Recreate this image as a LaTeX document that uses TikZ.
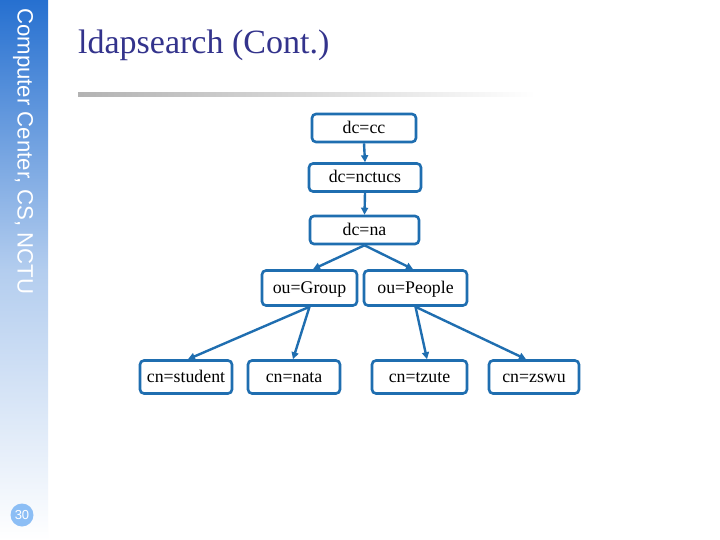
\documentclass[tikz,border=0pt]{standalone}
\usepackage{fontspec}
\setmainfont{Liberation Serif}
\newfontfamily\sidefont{Liberation Sans}
\usetikzlibrary{arrows.meta}
\definecolor{nodeblue}{RGB}{31,110,176}
\definecolor{titleblue}{RGB}{51,51,140}
\definecolor{sidetop}{RGB}{38,112,208}
\definecolor{circblue}{RGB}{140,190,245}
\tikzset{
  entry/.style={draw=nodeblue, line width=2.6pt, rounded corners=4pt, fill=white,
    minimum height=28pt, inner sep=0pt, text height=12pt, text depth=1pt,
    font=\fontsize{17.8}{20}\selectfont},
  link/.style={draw=nodeblue, line width=2.4pt, -{Triangle[length=7pt,width=7pt]}}
}
\begin{document}
\begin{tikzpicture}[x=1pt,y=-1pt]
\useasboundingbox (0,0) rectangle (720,540);
\fill[white] (0,0) rectangle (720,540);
% sidebar
\shade[top color=sidetop, bottom color=white, middle color=sidetop!35] (0,0) rectangle (48,540);
\node[anchor=west, rotate=-90, text=white, inner sep=0pt, font=\sidefont\fontsize{22.2}{24}\selectfont] (side) at (23,8) {Computer Center, CS, NCTU};
\node[circle, fill=circblue, minimum size=23pt, inner sep=0pt, text=white, font=\sidefont\fontsize{13}{15}\selectfont] (page) at (22,515) {30};
% title
\node[anchor=base west, inner sep=0pt, text=titleblue, font=\fontsize{34}{38}\selectfont] (title) at (78,53.5) {ldapsearch (Cont.)};
\shade[left color=black!30, right color=white] (78,93) rectangle (535,97);
% nodes
\node[entry, minimum width=104pt] (cc) at (364,128) {dc=cc};
\node[entry, minimum width=112pt] (nctucs) at (365,177.5) {dc=nctucs};
\node[entry, minimum width=109pt] (na) at (364.5,230) {dc=na};
\node[entry, minimum width=95pt, minimum height=35pt] (group) at (309.5,288) {ou=Group};
\node[entry, minimum width=103pt, minimum height=35pt] (people) at (415.5,288) {ou=People};
\node[entry, minimum width=92pt, minimum height=33pt] (student) at (186,377) {cn=student};
\node[entry, minimum width=92pt, minimum height=33pt] (nata) at (294,377) {cn=nata};
\node[entry, minimum width=95pt, minimum height=33pt] (tzute) at (419.5,377) {cn=tzute};
\node[entry, minimum width=90pt, minimum height=33pt] (zswu) at (534,377) {cn=zswu};
% links
\draw[link] (cc.south) -- (nctucs.north);
\draw[link] (nctucs.south) -- (na.north);
\draw[link] (na.south) -- ([xshift=3.5pt]group.north);
\draw[link] (na.south) -- ([xshift=-2.5pt]people.north);
\draw[link] (group.south) -- ([xshift=2pt]student.north);
\draw[link] (group.south) -- ([xshift=-1pt]nata.north);
\draw[link] (people.south) -- ([xshift=7.5pt]tzute.north);
\draw[link] (people.south) -- ([xshift=-8pt]zswu.north);
\end{tikzpicture}
\end{document}
